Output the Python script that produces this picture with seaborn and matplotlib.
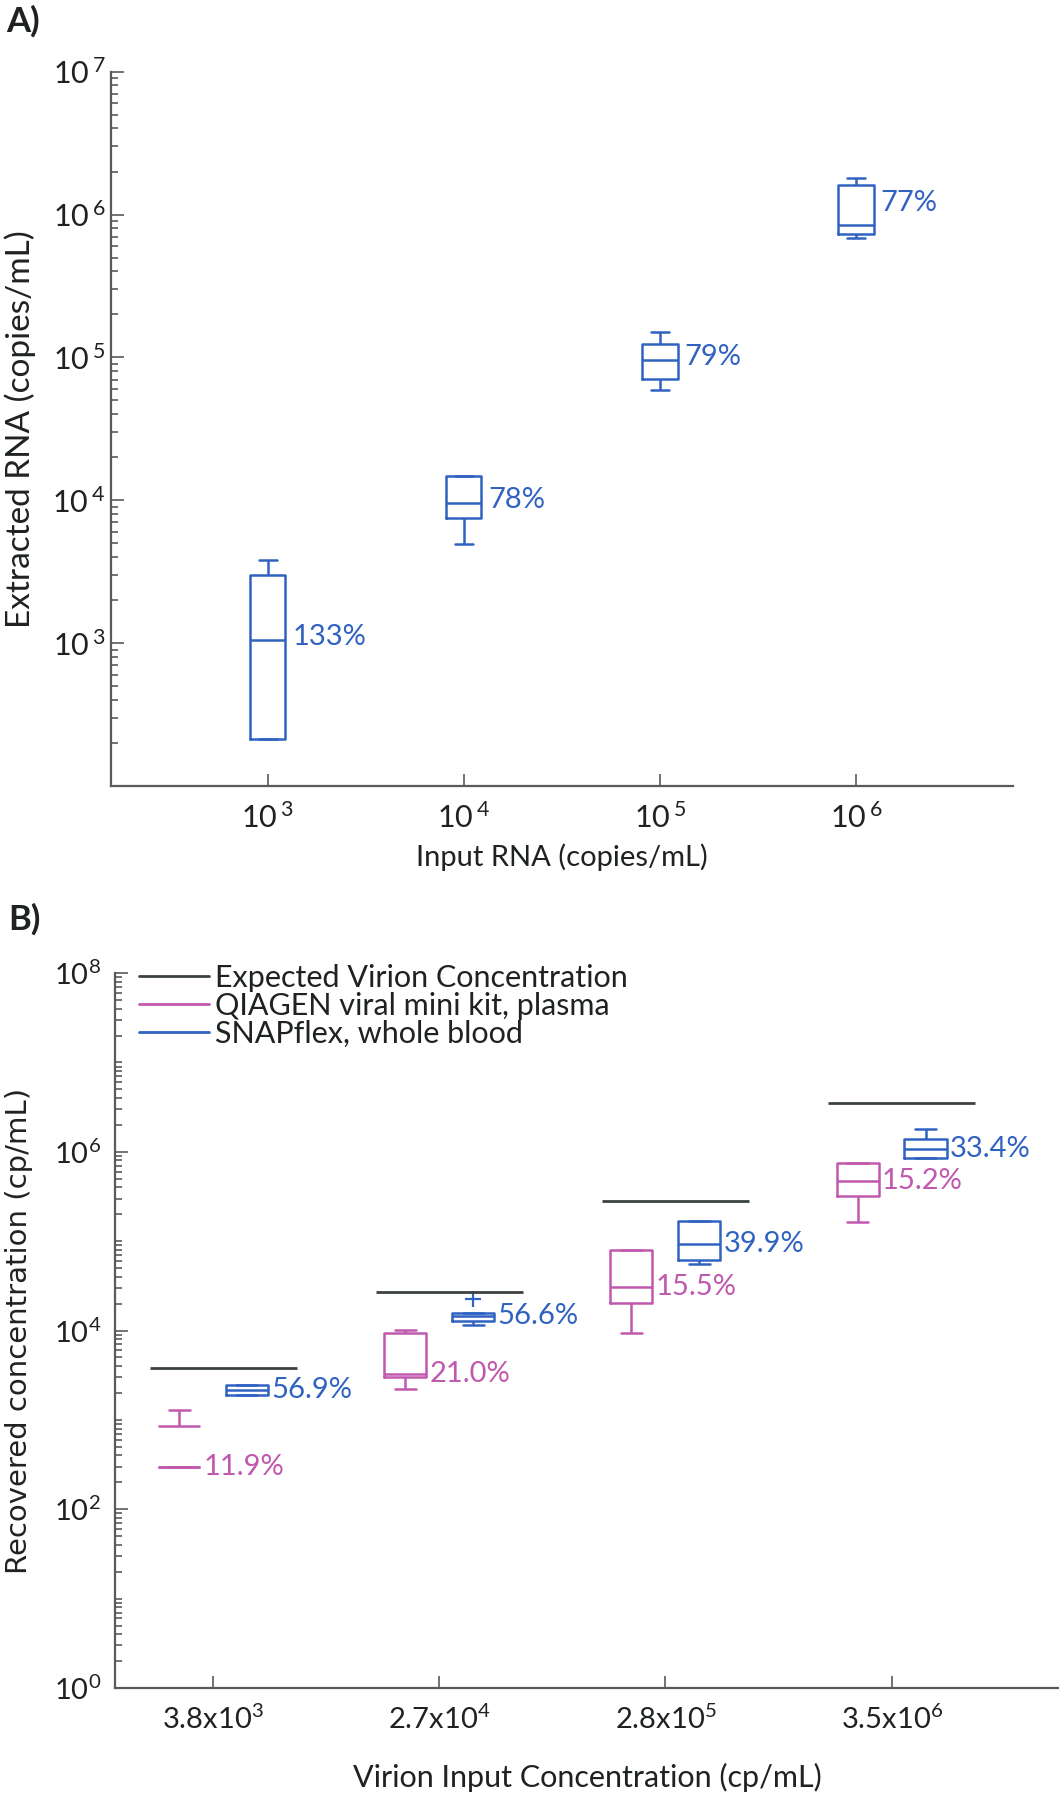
import numpy as np
import pandas as pd
import matplotlib

matplotlib.use("Agg")

import matplotlib.pyplot as plt  # noqa: E402
import seaborn as sns  # noqa: E402
from matplotlib.lines import Line2D  # noqa: E402
from matplotlib.ticker import FixedLocator, FuncFormatter, LogLocator, NullFormatter  # noqa: E402

# ---------------- panel A: extracted RNA vs input RNA ----------------
a_inputs = ["1e3", "1e4", "1e5", "1e6"]
a_tick_labels = [r"$\mathregular{10^{\,3}}$", r"$\mathregular{10^{\,4}}$",
                 r"$\mathregular{10^{\,5}}$", r"$\mathregular{10^{\,6}}$"]
a_low = [214, 4970, 59000, 682000]
a_q1 = [214, 7500, 71000, 731000]
a_median = [1050, 9570, 96000, 850000]
a_q3 = [3000, 14900, 125000, 1600000]
a_high = [3800, 14900, 150000, 1800000]
a_recovery = ["133%", "78%", "79%", "77%"]
a_label_y = [1100, 10000, 100000, 1200000]

# ---------------- panel B: recovered virion concentration ----------------
b_inputs = ["3.8x10^3", "2.7x10^4", "2.8x10^5", "3.5x10^6"]
b_tick_labels = [r"$\mathregular{3.8x10^{3}}$", r"$\mathregular{2.7x10^{4}}$",
                 r"$\mathregular{2.8x10^{5}}$", r"$\mathregular{3.5x10^{6}}$"]
b_expected = [3800, 27000, 280000, 3500000]
kits = ["QIAGEN viral mini kit, plasma", "SNAPflex, whole blood"]

qiagen_low = [299, 2230, 9350, 166000]
qiagen_q1 = [299, 3000, 20500, 318000]
qiagen_median = [299, 3250, 31000, 470000]
qiagen_q3 = [845, 9500, 80000, 750000]
qiagen_high = [1290, 10200, 80000, 750000]
qiagen_recovery = ["11.9%", "21.0%", "15.5%", "15.2%"]

snap_low = [1900, 11600, 56000, 845000]
snap_q1 = [1900, 12900, 62000, 850000]
snap_median = [2180, 14400, 93000, 1070000]
snap_q3 = [2450, 15900, 170000, 1380000]
snap_high = [2450, 22500, 170000, 1780000]  # 22500 shows up as an outlier
snap_recovery = ["56.9%", "56.6%", "39.9%", "33.4%"]

BLUE = "#3062c2"
MAGENTA = "#c058ae"
DARK = "#3c4242"
AXIS = "#5a5a5a"
TEXT = "#1e2222"

sns.set_style("white")
plt.rcParams["font.family"] = ["Lato", "DejaVu Sans"]
plt.rcParams["text.color"] = TEXT
plt.rcParams["axes.labelcolor"] = TEXT


def five_points(cats, *cols):
    rows = []
    for i, c in enumerate(cats):
        for col in cols:
            rows.append((c, col[i]))
    return rows


def style_axes(ax, tick_size):
    sns.despine(ax=ax)
    for side in ("left", "bottom"):
        ax.spines[side].set_color(AXIS)
        ax.spines[side].set_linewidth(1.6)
    ax.tick_params(which="both", direction="in", left=True, bottom=True,
                   color=AXIS, labelcolor=TEXT, width=1.2)
    ax.tick_params(which="major", length=9, labelsize=tick_size)
    ax.tick_params(which="minor", length=5)


fig = plt.figure(figsize=(10.59, 18.0), dpi=100)

# ---------------- panel A ----------------
df_a = pd.DataFrame(five_points(a_inputs, a_low, a_q1, a_median, a_q3, a_high),
                    columns=["input", "rna"])
ax_a = fig.add_axes([0.1046, 0.5633, 0.852, 0.3969])
sns.boxplot(data=df_a, x="input", y="rna", order=a_inputs, color=BLUE, fill=False,
            width=0.18, linewidth=1.8, whis=1.5, log_scale=True, ax=ax_a)
ax_a.set_xlim(-0.8, 3.8)
ax_a.set_ylim(1e2, 1e7)
ax_a.set_xticks(range(len(a_inputs)))
ax_a.set_xticklabels(a_tick_labels)
ax_a.yaxis.set_major_locator(FixedLocator([10.0 ** k for k in range(2, 8)]))
ax_a.yaxis.set_major_formatter(FuncFormatter(
    lambda v, p: "" if v < 500 else r"$\mathregular{10^{\,%d}}$" % round(np.log10(v))))
ax_a.yaxis.set_minor_locator(LogLocator(base=10, subs=np.arange(2, 10), numticks=50))
ax_a.yaxis.set_minor_formatter(NullFormatter())
style_axes(ax_a, 22)
ax_a.tick_params(axis="x", pad=12)
ax_a.tick_params(axis="y", pad=4)
ax_a.set_xlabel("Input RNA (copies/mL)", fontsize=21)
ax_a.set_ylabel("Extracted RNA (copies/mL)", fontsize=24)
ax_a.xaxis.set_label_coords(0.5, -0.08)
ax_a.yaxis.set_label_coords(-0.083, 0.5)
for i, txt in enumerate(a_recovery):
    ax_a.text(i + 0.125, a_label_y[i], txt, color=BLUE, fontsize=21,
              ha="left", va="center")

# ---------------- panel B ----------------
rows = []
for kit, cols in zip(kits, [(qiagen_low, qiagen_q1, qiagen_median, qiagen_q3, qiagen_high),
                            (snap_low, snap_q1, snap_median, snap_q3, snap_high)]):
    for c, v in five_points(b_inputs, *cols):
        rows.append((c, kit, v))
df_b = pd.DataFrame(rows, columns=["input", "kit", "conc"])

ax_b = fig.add_axes([0.1086, 0.0622, 0.8914, 0.3972])
sns.boxplot(data=df_b, x="input", y="conc", hue="kit", order=b_inputs, hue_order=kits,
            palette={kits[0]: MAGENTA, kits[1]: BLUE}, fill=False, dodge=True,
            width=0.6, gap=0.38, linewidth=1.8, whis=1.5, log_scale=True,
            flierprops=dict(marker="+", markersize=11, markeredgewidth=1.6),
            legend=False, ax=ax_b)

# the lowest QIAGEN box is drawn without side edges in the original
box0 = ax_b.containers[0].boxes[0]
bx, by = box0.get_data()
box0.set_visible(False)
ax_b.hlines([np.min(by), np.max(by)], np.min(bx), np.max(bx), color=MAGENTA, lw=1.8)

pos = np.arange(len(b_inputs))
ax_b.hlines(b_expected, pos - 0.28, pos + 0.37, color=DARK, lw=2.0)

for i in range(len(b_inputs)):
    ax_b.text(i - 0.15 + 0.108, qiagen_median[i], qiagen_recovery[i], color=MAGENTA,
              fontsize=21, ha="left", va="center")
    ax_b.text(i + 0.15 + 0.108, snap_median[i], snap_recovery[i], color=BLUE,
              fontsize=21, ha="left", va="center")

ax_b.set_xlim(-0.433, 3.74)
ax_b.set_ylim(1e0, 1e8)
ax_b.set_xticks(pos)
ax_b.set_xticklabels(b_tick_labels)
ax_b.yaxis.set_major_locator(FixedLocator([10.0 ** k for k in range(0, 9, 2)]))
ax_b.yaxis.set_major_formatter(FuncFormatter(
    lambda v, p: r"$\mathregular{10^{%d}}$" % round(np.log10(v))))
ax_b.yaxis.set_minor_locator(LogLocator(base=10, subs=np.arange(1, 10), numticks=100))
ax_b.yaxis.set_minor_formatter(NullFormatter())
style_axes(ax_b, 21)
ax_b.tick_params(axis="x", pad=12)
ax_b.tick_params(axis="y", pad=10)
ax_b.set_xlabel("Virion Input Concentration (cp/mL)", fontsize=22)
ax_b.set_ylabel("Recovered concentration (cp/mL)", fontsize=21,
                family=["DejaVu Sans"])
ax_b.xaxis.set_label_coords(0.5, -0.104)
ax_b.yaxis.set_label_coords(-0.087, 0.5)

handles = [Line2D([], [], color=DARK, lw=2.0),
           Line2D([], [], color=MAGENTA, lw=2.0),
           Line2D([], [], color=BLUE, lw=2.0)]
ax_b.legend(handles, ["Expected Virion Concentration"] + kits, loc="upper left",
            bbox_to_anchor=(0.012, 1.03), frameon=False, fontsize=22,
            handlelength=2.3, handletextpad=0.2, labelspacing=0.0, borderaxespad=0)

fig.text(0.006, 0.997, "A)", fontsize=25, fontweight="bold", va="top", ha="left")
fig.text(0.008, 0.4985, "B)", fontsize=25, fontweight="bold", va="top", ha="left")

fig.savefig("out.png", dpi=100)
